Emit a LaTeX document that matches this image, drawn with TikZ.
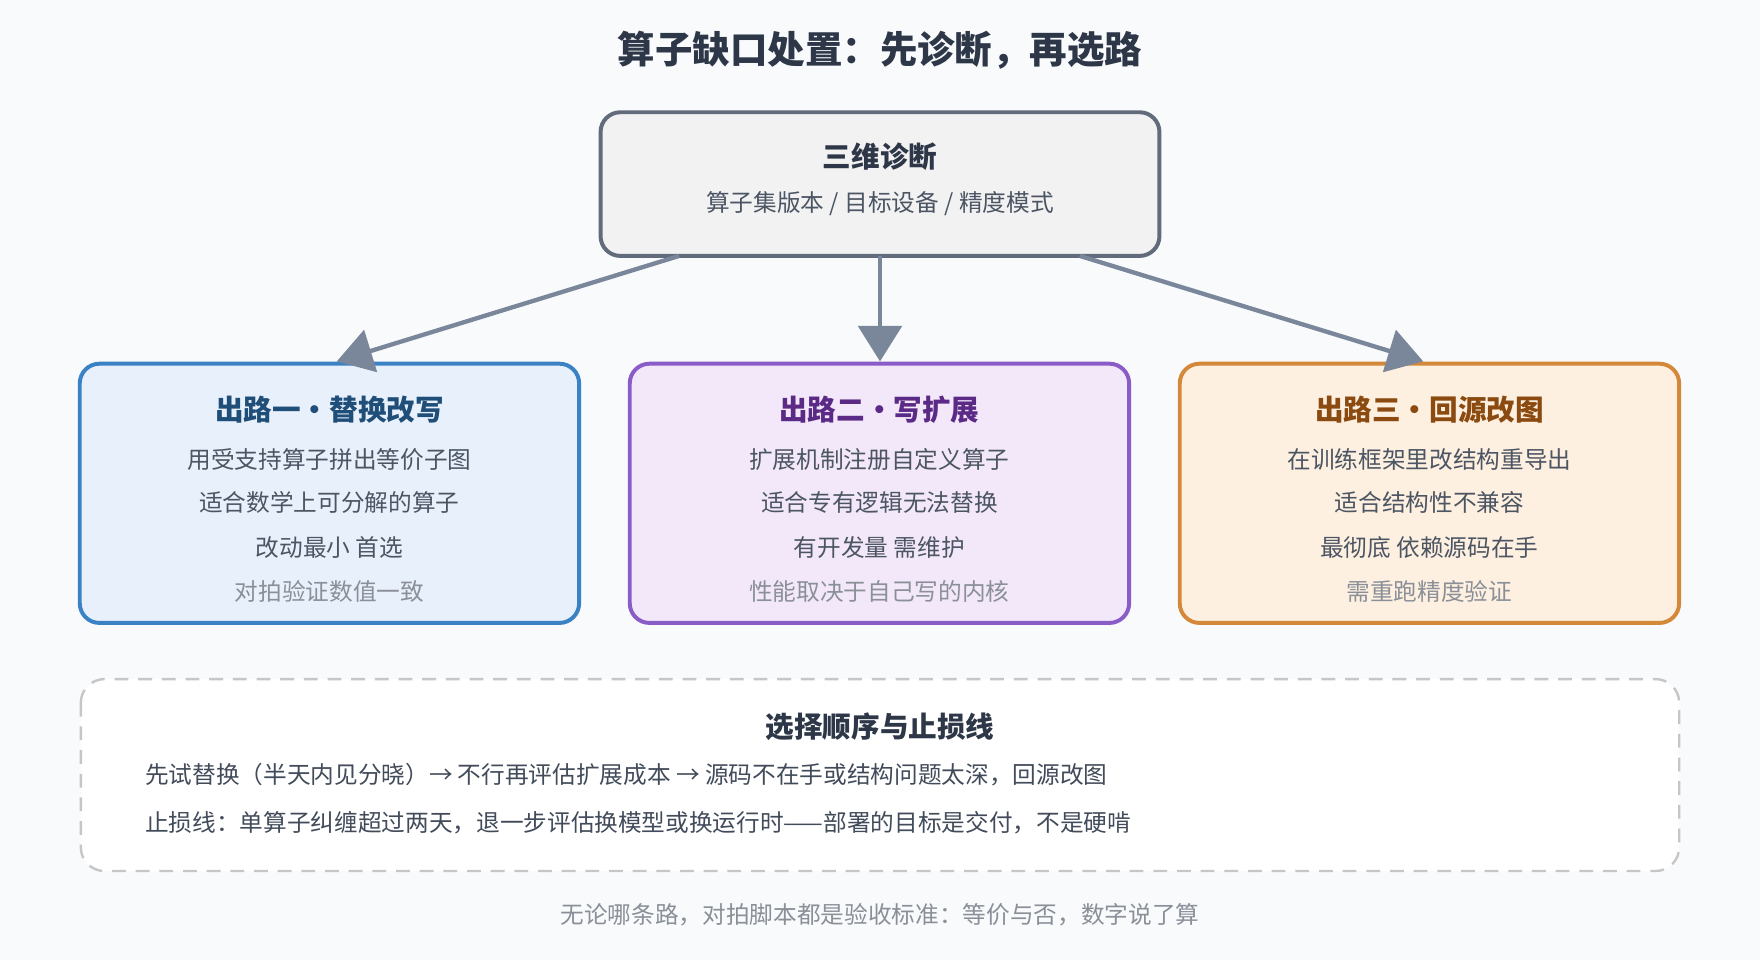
\documentclass[tikz,border=0pt]{standalone}
\usepackage{fontspec}
\setmainfont{Noto Sans CJK SC}
\usetikzlibrary{arrows.meta, positioning}
\definecolor{bgc}{HTML}{F8FAFC}
\definecolor{ink}{HTML}{2D3748}
\definecolor{arr}{HTML}{7A869A}
\definecolor{muted}{HTML}{8A8F98}
\tikzset{
  box/.style={draw, rounded corners=10pt, line width=2pt, minimum width=8.9cm, minimum height=4.62cm},
  ttl/.style={font=\fontsize{14.5}{17}\selectfont\bfseries},
  txt/.style={font=\fontsize{12}{14}\selectfont},
  flow/.style={draw=arr, line width=2.2pt, -{Triangle[length=18pt,width=22pt]}}
}
\begin{document}
\begin{tikzpicture}[x=0.02cm, y=-0.02cm]
  \fill[bgc] (0,0) rectangle (1568,855);
  \useasboundingbox (0,0) rectangle (1568,855);
  \node[font=\fontsize{19}{22}\selectfont\bfseries, text=ink] (title) at (784,45) {算子缺口处置：先诊断，再选路};

  % diagnosis box
  \node[box, draw=arr!80!black, fill=gray!10, minimum width=9.96cm, minimum height=2.56cm] (diag) at (784,164) {};
  \node[ttl, text=ink] (diagt) at (784,140) {三维诊断};
  \node[txt, text=ink!85] (diags) at (784,181) {算子集版本 / 目标设备 / 精度模式};

  % three routes
  \node[box, draw={rgb,255:red,58;green,130;blue,196}, fill={rgb,255:red,232;green,240;blue,251}] (r1) at (293.5,439.5) {};
  \node[box, draw={rgb,255:red,138;green,92;blue,200}, fill={rgb,255:red,243;green,232;blue,249}] (r2) at (783.5,439.5) {};
  \node[box, draw={rgb,255:red,212;green,136;blue,58}, fill={rgb,255:red,253;green,240;blue,224}] (r3) at (1273.5,439.5) {};

  \coordinate (a1) at (605,228); \coordinate (b1) at (300,322);
  \coordinate (a2) at (784,228); \coordinate (b2) at (784,322);
  \coordinate (a3) at (962,228); \coordinate (b3) at (1268,322);
  \draw[flow] (a1) -- (b1);
  \draw[flow] (a2) -- (b2);
  \draw[flow] (a3) -- (b3);

  \node[ttl, text={rgb,255:red,31;green,78;blue,121}] (r1t) at (293.5,365) {出路一・替换改写};
  \node[txt, text=ink!85] (r1a) at (293.5,409) {用受支持算子拼出等价子图};
  \node[txt, text=ink!85] (r1b) at (293.5,448) {适合数学上可分解的算子};
  \node[txt, text=ink!85] (r1c) at (293.5,488) {改动最小 首选};
  \node[txt, text=muted] (r1d) at (293.5,527) {对拍验证数值一致};

  \node[ttl, text={rgb,255:red,91;green,42;blue,134}] (r2t) at (783.5,365) {出路二・写扩展};
  \node[txt, text=ink!85] (r2a) at (783.5,409) {扩展机制注册自定义算子};
  \node[txt, text=ink!85] (r2b) at (783.5,448) {适合专有逻辑无法替换};
  \node[txt, text=ink!85] (r2c) at (783.5,488) {有开发量 需维护};
  \node[txt, text=muted] (r2d) at (783.5,527) {性能取决于自己写的内核};

  \node[ttl, text={rgb,255:red,138;green,74;blue,16}] (r3t) at (1273.5,365) {出路三・回源改图};
  \node[txt, text=ink!85] (r3a) at (1273.5,409) {在训练框架里改结构重导出};
  \node[txt, text=ink!85] (r3b) at (1273.5,448) {适合结构性不兼容};
  \node[txt, text=ink!85] (r3c) at (1273.5,488) {最彻底 依赖源码在手};
  \node[txt, text=muted] (r3d) at (1273.5,527) {需重跑精度验证};

  % order and stop-loss
  \draw[gray!45, line width=1.2pt, dash pattern=on 7pt off 5pt, fill=white, rounded corners=12pt] (72,605) rectangle (1496,776);
  \node[ttl, text=ink] (ordt) at (784,647) {选择顺序与止损线};
  \node[txt, text=ink!90, anchor=west] (ord1) at (123,690) {先试替换（半天内见分晓）→ 不行再评估扩展成本 → 源码不在手或结构问题太深，回源改图};
  \node[txt, text=ink!90, anchor=west] (ord2) at (123,733) {止损线：单算子纠缠超过两天，退一步评估换模型或换运行时——部署的目标是交付，不是硬啃};

  \node[txt, text=muted] (foot) at (784,815) {无论哪条路，对拍脚本都是验收标准：等价与否，数字说了算};
\end{tikzpicture}
\end{document}
